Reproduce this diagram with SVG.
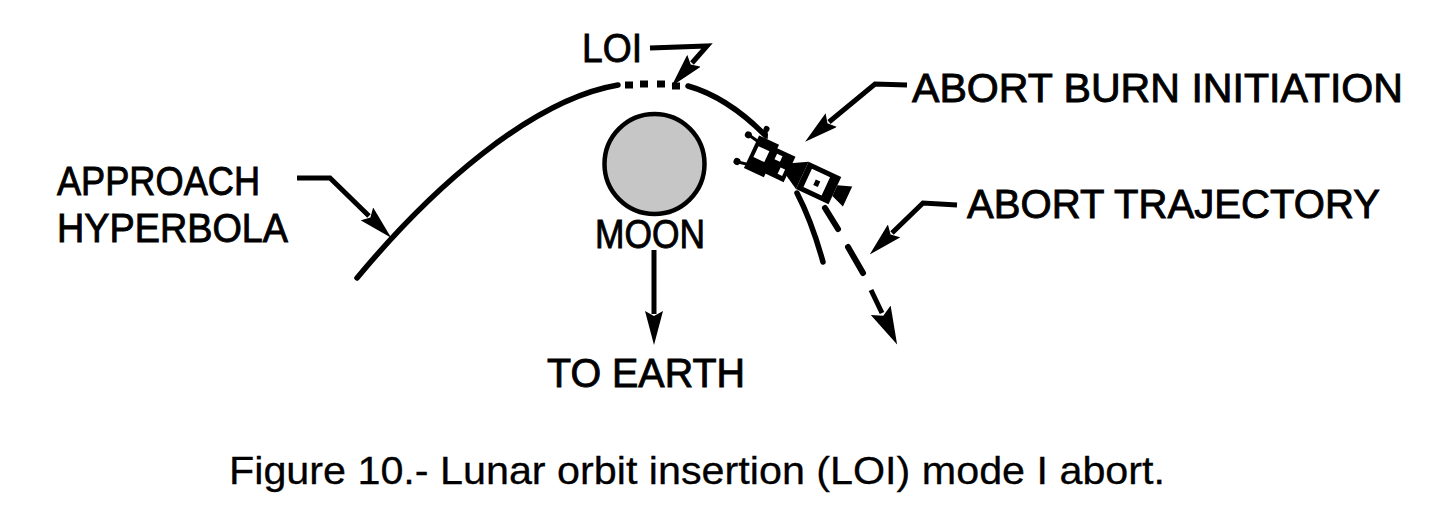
<svg xmlns="http://www.w3.org/2000/svg" width="1450" height="511" viewBox="0 0 1450 511">
<style>
.lbl{font-family:"Liberation Sans",Arial,sans-serif;font-size:41px;fill:#000;stroke:#000;stroke-width:0.9px}
.cap{font-family:"Liberation Sans",Arial,sans-serif;font-size:39px;fill:#000;stroke:#000;stroke-width:0.3px}
.trk{fill:none;stroke:#000;stroke-width:5.5;stroke-linecap:round}
.ptr{fill:none;stroke:#000;stroke-width:5;stroke-linejoin:miter}
.dash{stroke:#000;stroke-width:6;stroke-linecap:round}
.dot{stroke:#000;stroke-width:7}
</style>
<defs>
<marker id="ah" viewBox="0 0 34 18" markerWidth="34" markerHeight="18" refX="3" refY="9" orient="auto" markerUnits="userSpaceOnUse">
<path d="M0,0 L34,9 L0,18 L5,9 Z" fill="#000"/>
</marker>
<marker id="ahBig" viewBox="0 0 38 22" markerWidth="38" markerHeight="22" refX="3" refY="11" orient="auto" markerUnits="userSpaceOnUse">
<path d="M0,0 L38,11 L0,22 L6,11 Z" fill="#000"/>
</marker>
</defs>
<rect width="1450" height="511" fill="#fff"/>

<g id="moon">
<circle cx="654.5" cy="164" r="50" fill="#c6c6c6" stroke="#000" stroke-width="4.5"/>
<text class="lbl" x="595" y="248" textLength="110" lengthAdjust="spacingAndGlyphs">MOON</text>
</g>

<g id="to-earth">
<text class="lbl" x="547" y="387" textLength="198" lengthAdjust="spacingAndGlyphs">TO EARTH</text>
</g>

<g id="approach-hyperbola">
<text class="lbl" x="57" y="195" textLength="203" lengthAdjust="spacingAndGlyphs">APPROACH</text>
<text class="lbl" x="57" y="242" textLength="231" lengthAdjust="spacingAndGlyphs">HYPERBOLA</text>
</g>

<g id="loi">
<text class="lbl" x="582" y="62" textLength="60" lengthAdjust="spacingAndGlyphs">LOI</text>
</g>

<g id="abort-burn-initiation">
<text class="lbl" x="912" y="102" textLength="491" lengthAdjust="spacingAndGlyphs">ABORT BURN INITIATION</text>
</g>

<g id="abort-trajectory">
<text class="lbl" x="967" y="218" textLength="413" lengthAdjust="spacingAndGlyphs">ABORT TRAJECTORY</text>
</g>

<g id="spacecraft" transform="translate(795,172) rotate(25)">
<line x1="-46" y1="-12" x2="-57" y2="-14" stroke="#000" stroke-width="3"/>
<line x1="-46" y1="13" x2="-56" y2="15" stroke="#000" stroke-width="3"/>
<line x1="-40" y1="-18" x2="-44" y2="-26" stroke="#000" stroke-width="3"/>
<circle cx="-58" cy="-14" r="3.5" fill="#000"/>
<circle cx="-57" cy="15" r="3.5" fill="#000"/>
<circle cx="-44" cy="-27" r="3" fill="#000"/>
<rect x="-48" y="-18" width="22" height="36" fill="#000"/>
<rect x="-44" y="-8" width="12" height="12" fill="#fff"/>
<rect x="-28" y="-14" width="22" height="28" fill="#000"/>
<rect x="-24" y="-9" width="6" height="6" fill="#fff"/>
<rect x="-15" y="2" width="5" height="7" fill="#fff"/>
<polygon points="-8,-6 8,-15 8,15 -8,6" fill="#000"/>
<rect x="8" y="-15" width="36" height="30" fill="#000"/>
<rect x="14" y="-10" width="20" height="20" fill="#fff"/>
<rect x="22" y="-2" width="5" height="6" fill="#000"/>
<polygon points="44,-6 58,-11 58,11 44,6" fill="#000"/>
</g>

<g id="connectors">
<path class="trk" d="M357,278 C430,190 530,100 618,85"/>
<line class="dot" x1="625" y1="85" x2="633" y2="85"/>
<line class="dot" x1="640" y1="84" x2="648" y2="84"/>
<line class="dot" x1="657" y1="84" x2="665" y2="84"/>
<line class="dot" x1="672" y1="86" x2="680" y2="86"/>
<path class="trk" d="M688,86 C720,95 745,115 765,135"/>
<path class="trk" d="M797,193 Q812,222 823,262"/>
<line class="dash" x1="825" y1="208" x2="838" y2="229"/>
<line class="dash" x1="848" y1="247" x2="863" y2="273"/>
<path class="ptr" d="M871,290 L882,313" marker-end="url(#ahBig)"/>
<path class="ptr" d="M297,178 L330,178 L369,216" marker-end="url(#ah)"/>
<path class="ptr" d="M650,48 L707,46 L692,63" marker-end="url(#ah)"/>
<path class="ptr" d="M907,85 L875,84 L829,122" marker-end="url(#ah)"/>
<path class="ptr" d="M957,205 L923,203 L892,233" marker-end="url(#ah)"/>
<path class="ptr" d="M654,250 L654,314" marker-end="url(#ah)"/>
</g>

<g id="caption">
<text class="cap" x="229" y="484" textLength="936" lengthAdjust="spacingAndGlyphs">Figure 10.- Lunar orbit insertion (LOI) mode I abort.</text>
</g>
</svg>
